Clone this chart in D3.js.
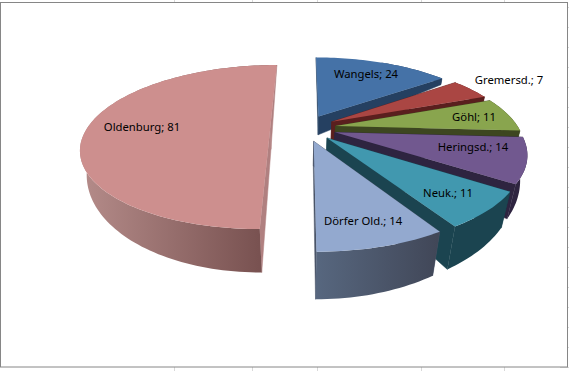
<!DOCTYPE html>
<html>
<head>
<meta charset="utf-8">
<script src="https://cdn.jsdelivr.net/npm/d3@7"></script>
<style>
html, body { margin: 0; padding: 0; background: #fff; }
svg { display: block; }
</style>
</head>
<body>
<div id="chart"></div>
<script>
const width = 569, height = 371;

const categories = ["Wangels", "Gremersd.", "Göhl", "Heringsd.", "Neuk.", "Dörfer Old.", "Oldenburg"];
const values = [24, 7, 11, 14, 11, 14, 81];

const topColors = ["#4572a7", "#aa4643", "#89a54e", "#71588f", "#4198af", "#93a9cf", "#cd8f8e"];
const wallColors = ["#254061", "#5a1f1e", "#3d4620", "#2e2440", "#1b4450", "#4a5569", "#b08080"];

// where the label text sits, same order as categories
const labelX = [366, 509, 474, 473, 448, 363, 142];
const labelY = [75, 81, 118, 148, 194, 222, 128];
const labelText = categories.map((c, i) => c + (c == "Neuk." || c == "Gremersd." ? ";  " : "; ") + values[i]);

// fake 3d: the pie plane is pushed through a perspective
const cx = 305, cy = 128, w = 183, k = 77.6, p = 0.232;
const explode = c => c == "Oldenburg" ? 0.19 : 0.17;

const project = (X, Y) => [cx + w * X / (1 - p * Y), cy + k * Y / (1 - p * Y)];

// how far a point of the top face drops to the bottom face
const depth = d3.scalePow().exponent(0.4).domain([62, 254]).range([0, 48]).clamp(true);
const drop = pt => {
    const d = depth(pt[1]);
    return [pt[0] - (pt[0] - 300) * d / 872, pt[1] + d];
};

const svg = d3.select("#chart")
    .append("svg")
    .attr("width", width)
    .attr("height", height)
    .attr("viewBox", [0, 0, width, height]);

// sheet gridlines peeking out round the chart
const gridX = [174.5, 252.5, 317.5, 421.5, 504.5];
const gridY = d3.range(7.5, height, 20);
svg.selectAll(".gridx")
    .data(gridX)
    .join("line")
    .attr("class", "gridx")
    .attr("x1", d => d).attr("x2", d => d)
    .attr("y1", 0).attr("y2", height)
    .attr("stroke", "#d9d9d9");
svg.selectAll(".gridy")
    .data(gridY)
    .join("line")
    .attr("class", "gridy")
    .attr("x1", 560).attr("x2", width)
    .attr("y1", d => d).attr("y2", d => d)
    .attr("stroke", "#d9d9d9");

svg.append("rect")
    .attr("x", 0.5).attr("y", 2.5)
    .attr("width", 567).attr("height", 364.5)
    .attr("fill", "#fff")
    .attr("stroke", "#868686");

const defs = svg.append("defs");
const addGradient = (id, x1, x2, c1, c2) => {
    const g = defs.append("linearGradient")
        .attr("id", id)
        .attr("gradientUnits", "userSpaceOnUse")
        .attr("x1", x1).attr("x2", x2).attr("y1", 0).attr("y2", 0);
    g.append("stop").attr("offset", 0).attr("stop-color", c1);
    g.append("stop").attr("offset", 1).attr("stop-color", c2);
};
addGradient("wall-old", 80, 262, "#b58c8a", "#785150");
addGradient("wall-dorf", 316, 437, "#57677f", "#414758");

const pie = d3.pie().sort(null).value(d => d);
const arcs = pie(values);
const line = d3.line();

arcs.forEach((a, i) => {
    const mid = (a.startAngle + a.endAngle) / 2;
    const e = explode(categories[i]);
    const ex = e * Math.sin(mid), ey = -e * Math.cos(mid);
    const n = Math.max(8, Math.round((a.endAngle - a.startAngle) * 40));
    const rim = d3.range(n + 1).map(j => {
        const t = a.startAngle + (a.endAngle - a.startAngle) * j / n;
        return project(ex + Math.sin(t), ey - Math.cos(t));
    });
    const apex = project(ex, ey);
    const g = svg.append("g").attr("class", "slice");

    // the two cut faces, then the outer wall, then the top
    [[apex, rim[0]], [apex, rim[n]]].forEach(edge => {
        g.append("path")
            .attr("d", line([edge[0], edge[1], drop(edge[1]), drop(edge[0])]) + "Z")
            .attr("fill", wallColors[i])
            .attr("stroke", wallColors[i])
            .attr("stroke-width", 0.5);
    });
    let wallFill = wallColors[i];
    if (categories[i] == "Oldenburg") wallFill = "url(#wall-old)";
    if (categories[i] == "Dörfer Old.") wallFill = "url(#wall-dorf)";
    g.append("path")
        .attr("d", line(rim.concat(rim.map(drop).reverse())) + "Z")
        .attr("fill", wallFill);
    g.append("path")
        .attr("d", line([apex].concat(rim)) + "Z")
        .attr("fill", topColors[i]);
});

svg.selectAll(".label")
    .data(labelText)
    .join("text")
    .attr("class", "label")
    .attr("x", (d, i) => labelX[i])
    .attr("y", (d, i) => labelY[i])
    .attr("text-anchor", "middle")
    .attr("dominant-baseline", "middle")
    .style("font-family", "'Noto Sans', sans-serif")
    .style("font-size", "11.3px")
    .style("fill", "#000")
    .text(d => d);
</script>
</body>
</html>
